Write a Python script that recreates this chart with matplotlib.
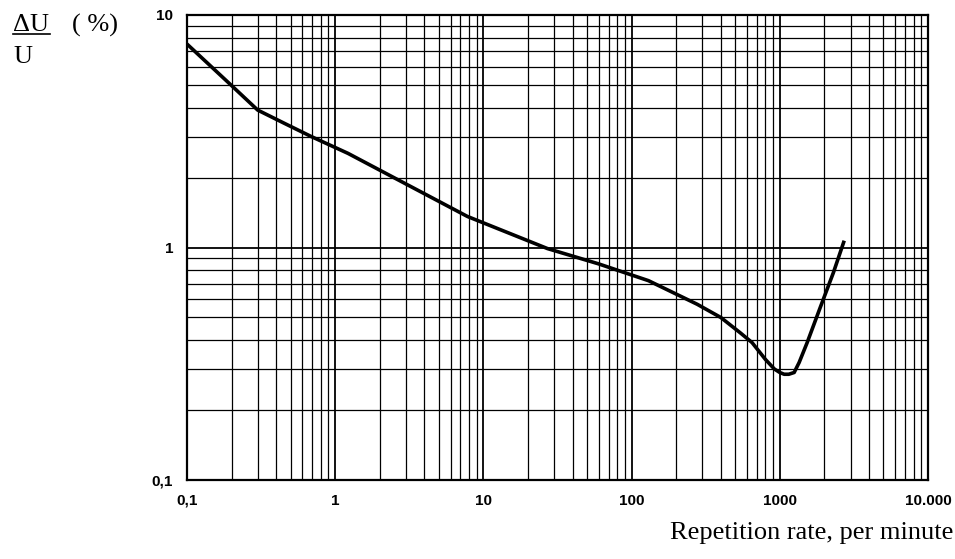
import numpy as np
import matplotlib.pyplot as plt
from matplotlib.ticker import FixedLocator, FixedFormatter, NullFormatter

# Данные кривой
rate = [0.1, 0.2, 0.3, 0.45, 0.69, 1.22, 7.8, 27, 60, 130, 277, 400, 540,
        650, 800, 920, 1000, 1070, 1150, 1250, 1350, 1530, 1870, 2300, 2720]
ratio = [7.5, 4.97, 3.9, 3.43, 3.0, 2.54, 1.36, 0.99, 0.85, 0.72, 0.57, 0.5, 0.43,
         0.39, 0.33, 0.3, 0.29, 0.285, 0.285, 0.29, 0.32, 0.39, 0.55, 0.78, 1.07]

x_ticks = [0.1, 1, 10, 100, 1000, 10000]
x_labels = ['0,1', '1', '10', '100', '1000', '10.000']
y_ticks = [0.1, 1, 10]
y_labels = ['0,1', '1', '10']

fig = plt.figure(figsize=(9.55, 5.59), dpi=100)
ax = fig.add_axes([187 / 955, 1 - 480 / 559, (928 - 187) / 955, (480 - 15) / 559])

ax.set_xscale('log')
ax.set_yscale('log')
ax.set_xlim(0.1, 10000)
ax.set_ylim(0.1, 10)

# Сетка: декады и промежуточные линии
ax.xaxis.set_major_locator(FixedLocator(x_ticks))
ax.xaxis.set_major_formatter(FixedFormatter(x_labels))
ax.yaxis.set_major_locator(FixedLocator(y_ticks))
ax.yaxis.set_major_formatter(FixedFormatter(y_labels))
minor_x = [m * 10.0 ** d for d in range(-1, 4) for m in range(2, 10)]
minor_y = [m * 10.0 ** d for d in range(-1, 1) for m in range(2, 10)]
ax.xaxis.set_minor_locator(FixedLocator(minor_x))
ax.yaxis.set_minor_locator(FixedLocator(minor_y))
ax.xaxis.set_minor_formatter(NullFormatter())
ax.yaxis.set_minor_formatter(NullFormatter())

ax.grid(True, which='major', color='black', linewidth=1.3)
ax.grid(True, which='minor', color='black', linewidth=0.9)
ax.tick_params(which='both', length=0)
ax.tick_params(axis='x', pad=10)
ax.tick_params(axis='y', pad=10)
for lbl in ax.get_xticklabels() + ax.get_yticklabels():
    lbl.set_fontfamily('Liberation Sans')
    lbl.set_fontsize(11)
    lbl.set_fontweight('bold')

for sp in ax.spines.values():
    sp.set_linewidth(1.6)
    sp.set_color('black')

ax.plot(rate, ratio, color='black', linewidth=2.6, solid_capstyle='butt',
        solid_joinstyle='round', zorder=5)

# Подписи осей
serif = 'Liberation Serif'
fig.text(13 / 955, 1 - 25 / 559, 'ΔU', family=serif, fontsize=19,
         ha='left', va='center')
fig.add_artist(plt.Line2D([13 / 955, 50 / 955], [1 - 34 / 559, 1 - 34 / 559],
                          color='black', linewidth=1.2))
fig.text(13 / 955, 1 - 57 / 559, 'U', family=serif, fontsize=19,
         ha='left', va='center')
fig.text(72 / 955, 1 - 25 / 559, '( %)', family=serif, fontsize=19,
         ha='left', va='center')
fig.text(953 / 955, 1 - 533 / 559, 'Repetition rate, per minute', family=serif,
         fontsize=19, ha='right', va='center')

fig.savefig('out.png', dpi=100)
